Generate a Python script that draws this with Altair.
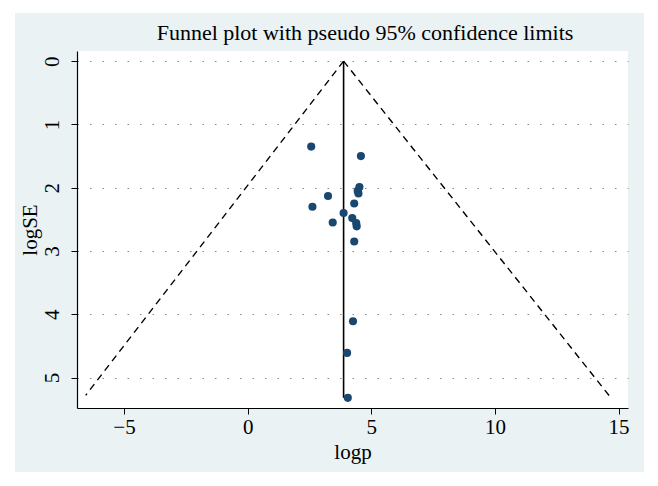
import altair as alt
import pandas as pd

# Study estimates
logp = [2.57, 4.58, 4.52, 4.48, 4.45, 3.25, 4.31, 2.62, 3.88, 4.23, 3.44, 4.39, 4.41, 4.31, 4.26, 4.02, 4.05]
logse = [1.35, 1.50, 1.99, 2.09, 2.05, 2.13, 2.25, 2.30, 2.40, 2.48, 2.55, 2.56, 2.61, 2.85, 4.11, 4.61, 5.32]

# Pseudo 95% limits and pooled estimate
center = 3.88
lower_x = [3.88, -6.55]
lower_y = [0.0, 5.28]
upper_x = [3.88, 14.65]
upper_y = [0.0, 5.30]
vline_y = [0.0, 5.32]

x_ticks = [-5, 0, 5, 10, 15]
y_ticks = [0, 1, 2, 3, 4, 5]
title_text = "Funnel plot with pseudo 95% confidence limits"

FONT = "Liberation Serif"
NAVY = "#1a476f"
BG = "#EAF2F3"

pts = pd.DataFrame({"logp": logp, "logSE": logse})
limits = pd.DataFrame({
    "logp": lower_x + upper_x,
    "logSE": lower_y + upper_y,
    "side": ["lower"] * 2 + ["upper"] * 2,
})
vline = pd.DataFrame({"logp": [center, center], "logSE": vline_y})
one = pd.DataFrame({"a": [0]})

xs = alt.Scale(domain=[-6.9, 15.38], nice=False, zero=False)
ys = alt.Scale(domain=[-0.16, 5.48], nice=False, zero=False, reverse=True)

xaxis = alt.Axis(values=x_ticks, title="logp", grid=False, domainColor="black",
                 tickColor="black", tickSize=6, labelFont=FONT, labelFontSize=21,
                 labelColor="black", titleFont=FONT, titleFontSize=21,
                 titleFontWeight="normal", titleColor="black", labelPadding=2,
                 titlePadding=4, zindex=1, domainWidth=1.2, labelFlush=False)
yaxis = alt.Axis(values=y_ticks, title="logSE", grid=True, gridDash=[1.5, 11],
                 gridColor="#8a8a8a", gridWidth=1.2, domainColor="black",
                 tickColor="black", tickSize=6, labelFont=FONT, labelFontSize=21,
                 labelColor="black", labelAngle=270, labelAlign="center",
                 labelBaseline="bottom", labelPadding=9, titleFont=FONT,
                 titleFontSize=21, titleFontWeight="normal", titleColor="black",
                 titlePadding=1, zindex=1, domainWidth=1.2, labelFlush=False)

X = alt.X("logp:Q", scale=xs, axis=xaxis)
Y = alt.Y("logSE:Q", scale=ys, axis=yaxis)

bg = alt.Chart(one).mark_rect(color=BG).encode(
    x=alt.value(-62), x2=alt.value(567), y=alt.value(-38), y2=alt.value(421))
plotbg = alt.Chart(one).mark_rect(color="white").encode(
    x=alt.value(0), x2=alt.value(551), y=alt.value(0), y2=alt.value(357))
title = alt.Chart(one).mark_text(text=title_text, font=FONT, fontSize=22,
                                 color="black", align="center", baseline="middle").encode(
    x=alt.value(288), y=alt.value(-18))

funnel = alt.Chart(limits).mark_line(color="black", strokeDash=[7, 5], strokeWidth=1.4).encode(
    x=X, y=Y, detail="side:N", order="logSE:Q")
center_line = alt.Chart(vline).mark_line(color="black", strokeWidth=1.6).encode(x=X, y=Y)
points = alt.Chart(pts).mark_circle(color=NAVY, opacity=1, size=66).encode(x=X, y=Y)

chart = alt.layer(bg, plotbg, title, funnel, center_line, points).properties(
    width=551, height=357,
    autosize=alt.AutoSizeParams(type="none"),
    padding={"left": 69, "top": 43, "right": 22, "bottom": 70},
).configure_view(stroke=None).configure(background="white")

chart.save("out.html", embed_options={"renderer": "svg", "actions": False})
